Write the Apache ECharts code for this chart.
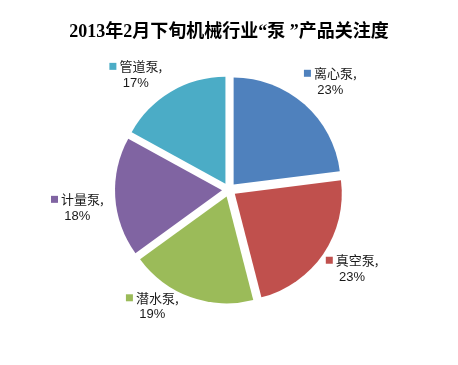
<!DOCTYPE html>
<html>
<head>
<meta charset="utf-8">
<script src="https://cdn.jsdelivr.net/npm/echarts@6/dist/echarts.min.js"></script>
<style>html,body{margin:0;padding:0;background:#fff}#c{width:458px;height:365px}</style>
</head>
<body>
<div id="c"></div>
<script>
const categories = ['离心泵', '真空泵', '潜水泵', '计量泵', '管道泵'];
const values = [23, 23, 19, 18, 17];
const colors = ['#4F81BD', '#C0504D', '#9BBB59', '#8064A2', '#4BACC6'];
const titleText = '2013年2月下旬机械行业“泵 ”产品关注度';

// small label nudges (styling only) to mimic the original's label placement
const labelNudge = [[6, 0], [4, -2], [-28, -19], [-8, 9], [-20, 9]];

const chart = echarts.init(document.getElementById('c'));
const rich = {
  n: { fontSize: 13, color: '#1a1a1a', fontFamily: 'Noto Sans CJK SC', lineHeight: 17, padding: [0, 0, 0, 3] },
  p: { fontSize: 13, color: '#1a1a1a', fontFamily: 'Liberation Sans, Arial', lineHeight: 17, align: 'center' }
};
colors.forEach((c, i) => { rich['s' + i] = { width: 7, height: 7, backgroundColor: c }; });

chart.setOption({
  backgroundColor: '#fff',
  title: {
    text: titleText,
    left: 'center',
    top: 18,
    textStyle: { fontSize: 18, fontWeight: 'bold', color: '#000', fontFamily: 'Liberation Serif, Noto Sans CJK SC' }
  },
  series: [{
    type: 'pie',
    center: ['50%', '52%'],
    radius: 107,
    startAngle: 90,
    clockwise: true,
    selectedMode: 'multiple',
    selectedOffset: 7,
    animation: false,
    label: {
      show: true,
      position: 'outside',
      distanceToLabelLine: 0,
      formatter: (p) => `{s${p.dataIndex}|}{n|${p.name},}\n{p|${p.value}%}`,
      rich: rich
    },
    labelLine: { show: false, length: 30, length2: 0 },
    labelLayout: (params) => ({
      align: 'center',
      verticalAlign: 'middle',
      dx: labelNudge[params.dataIndex][0],
      dy: labelNudge[params.dataIndex][1]
    }),
    emphasis: { scale: false },
    data: categories.map((name, i) => ({
      name: name,
      value: values[i],
      selected: true,
      itemStyle: { color: colors[i] }
    }))
  }]
});
</script>
</body>
</html>
